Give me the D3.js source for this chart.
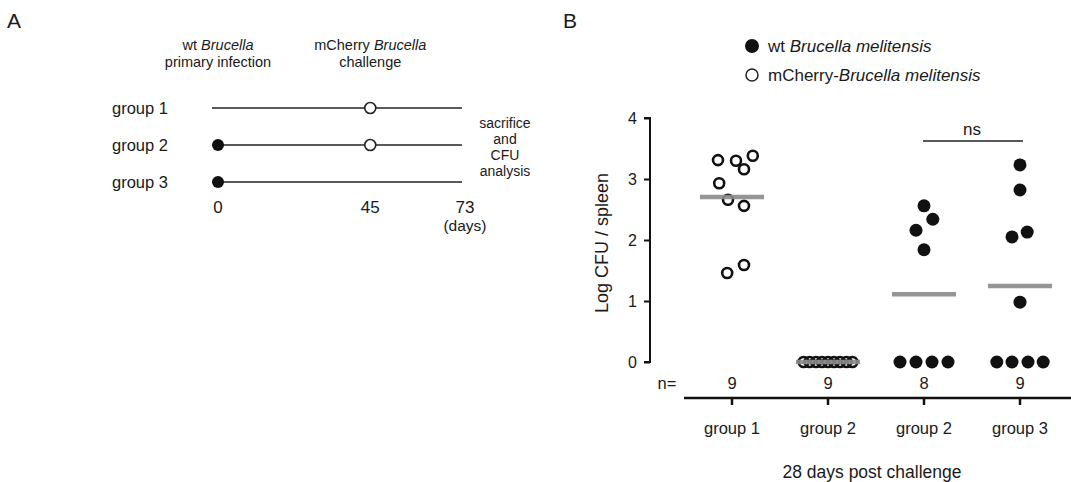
<!DOCTYPE html>
<html>
<head>
<meta charset="utf-8">
<script src="https://cdn.jsdelivr.net/npm/d3@7"></script>
<style>
  body { margin: 0; background: #fff; }
  svg { font-family: 'Liberation Sans', Arial, sans-serif; fill: #1a1a1a; }
</style>
</head>
<body>
<div id="chart"></div>
<script>
// ---- panel A: timeline ----
const timelineGroups = ['group 1', 'group 2', 'group 3'];
const primaryDay = [null, 0, 0];
const challengeDay = [45, 45, null];
const dayTicks = [0, 45, 73];

// ---- panel B: CFU per spleen ----
const categories = ['group 1', 'group 2', 'group 2', 'group 3'];
const nCounts = [9, 9, 8, 9];
const strain = ['mcherry', 'mcherry', 'wt', 'wt'];
const group1Values = [3.31, 3.30, 3.38, 3.16, 2.93, 2.66, 2.56, 1.46, 1.59];
const group1Offsets = [-1.75, 0.5, 2.6, 1.5, -1.6, -0.5, 1.5, -0.6, 1.5];
const group2aValues = [0, 0, 0, 0, 0, 0, 0, 0, 0];
const group2aOffsets = [-3.05, -2.3, -1.5, -0.75, 0, 0.75, 1.5, 2.3, 3.05];
const group2bValues = [2.56, 2.34, 2.16, 1.84, 0, 0, 0, 0];
const group2bOffsets = [0, 1.1, -1, 0, -3, -1, 1, 3];
const group3Values = [3.23, 2.82, 2.05, 2.13, 0.98, 0, 0, 0, 0];
const group3Offsets = [0, 0, -1, 0.9, 0, -2.9, -1, 1, 2.9];
const yTicks = [0, 1, 2, 3, 4];

const W = 1071, H = 482;
const svg = d3.select('#chart').append('svg').attr('width', W).attr('height', H);

// panel letters
svg.append('text').attr('x', 7).attr('y', 28).style('font-size', '21px').text('A');
svg.append('text').attr('x', 563).attr('y', 28).style('font-size', '21px').text('B');

// ===== Panel A =====
const tx = d3.scaleLinear().domain([0, 73]).range([218, 465]);
const ty = d3.scalePoint().domain(timelineGroups).range([108, 182]);
const gA = svg.append('g');

const headers = [
  { day: 0, lines: [['wt ', 'Brucella'], ['primary infection']] },
  { day: 45, lines: [['mCherry ', 'Brucella'], ['challenge']] }
];
headers.forEach(h => {
  const t = gA.append('text').attr('text-anchor', 'middle').style('font-size', '14.5px');
  h.lines.forEach((parts, i) => {
    const ts = t.append('tspan').attr('x', tx(h.day)).attr('y', 50 + i * 17);
    ts.append('tspan').text(parts[0]);
    if (parts[1]) ts.append('tspan').style('font-style', 'italic').text(parts[1]);
  });
});

timelineGroups.forEach((g, i) => {
  const y = ty(g);
  gA.append('text').attr('x', 112).attr('y', y + 6).style('font-size', '16.5px').text(g);
  gA.append('line')
    .attr('x1', tx(0) - 6).attr('x2', tx(73) - 3)
    .attr('y1', y).attr('y2', y)
    .attr('stroke', '#222').attr('stroke-width', 1.5);
  if (primaryDay[i] !== null) {
    gA.append('circle').attr('cx', tx(primaryDay[i])).attr('cy', y).attr('r', 6).attr('fill', '#111');
  }
  if (challengeDay[i] !== null) {
    gA.append('circle').attr('cx', tx(challengeDay[i])).attr('cy', y).attr('r', 5.5)
      .attr('fill', '#fff').attr('stroke', '#222').attr('stroke-width', 1.6);
  }
});

gA.selectAll('text.day').data(dayTicks).join('text')
  .attr('class', 'day').attr('x', d => tx(d)).attr('y', 213)
  .attr('text-anchor', 'middle').style('font-size', '17px').text(d => d);
gA.append('text').attr('x', tx(73)).attr('y', 231).attr('text-anchor', 'middle')
  .style('font-size', '15.5px').text('(days)');

const sacrifice = ['sacrifice', 'and', 'CFU', 'analysis'];
gA.selectAll('text.sac').data(sacrifice).join('text')
  .attr('class', 'sac').attr('x', 505).attr('y', (d, i) => 128 + i * 16)
  .attr('text-anchor', 'middle').style('font-size', '14px').text(d => d);

// ===== Panel B =====
const x = d3.scalePoint().domain(d3.range(categories.length)).range([732, 1020]);
const y = d3.scaleLinear().domain([0, 4]).range([362, 118]);
const jitter = d3.scaleLinear().domain([0, 1]).range([0, 8]);
const gB = svg.append('g');

// y axis
gB.append('g')
  .attr('transform', 'translate(650,0)')
  .call(d3.axisLeft(y).tickValues(yTicks).tickFormat(d3.format('d')).tickSize(6).tickPadding(7))
  .call(g => g.select('.domain').attr('stroke', '#111').attr('stroke-width', 2)
    .attr('d', `M-6,${y(4)}H0V${y(0)}H-6`))
  .call(g => g.selectAll('.tick line').attr('stroke', '#111').attr('stroke-width', 2))
  .call(g => g.selectAll('.tick text').style('font-size', '16px').attr('fill', '#1a1a1a')
    .style('font-family', "'Liberation Sans', Arial, sans-serif"));

gB.append('text')
  .attr('transform', 'translate(608,243) rotate(-90)')
  .attr('text-anchor', 'middle').style('font-size', '18px').text('Log CFU / spleen');

// x axis
const xAxis = gB.append('g').attr('transform', 'translate(0,398)');
xAxis.append('line').attr('x1', 684).attr('x2', W).attr('stroke', '#111').attr('stroke-width', 2.5);
xAxis.selectAll('line.tick').data(categories).join('line')
  .attr('class', 'tick').attr('x1', (d, i) => x(i)).attr('x2', (d, i) => x(i))
  .attr('y1', 0).attr('y2', 7).attr('stroke', '#111').attr('stroke-width', 2.5);
xAxis.selectAll('text.cat').data(categories).join('text')
  .attr('class', 'cat').attr('x', (d, i) => x(i)).attr('y', 36)
  .attr('text-anchor', 'middle').style('font-size', '16.5px').text(d => d);

gB.append('text').attr('x', 667).attr('y', 389).attr('text-anchor', 'middle')
  .style('font-size', '16.5px').text('n=');
gB.selectAll('text.n').data(nCounts).join('text')
  .attr('class', 'n').attr('x', (d, i) => x(i)).attr('y', 389)
  .attr('text-anchor', 'middle').style('font-size', '16.5px').text(d => d);

gB.append('text').attr('x', 872).attr('y', 478).attr('text-anchor', 'middle')
  .style('font-size', '17.5px').text('28 days post challenge');

// dots + means
const series = [
  { values: group1Values, offsets: group1Offsets },
  { values: group2aValues, offsets: group2aOffsets },
  { values: group2bValues, offsets: group2bOffsets },
  { values: group3Values, offsets: group3Offsets }
];

series.forEach((s, i) => {
  const pts = s.values.map((v, k) => ({ v, o: s.offsets[k] }));
  const open = strain[i] === 'mcherry';
  gB.append('g').selectAll('circle').data(pts).join('circle')
    .attr('cx', d => x(i) + jitter(d.o))
    .attr('cy', d => y(d.v))
    .attr('r', open ? 5 : 6.5)
    .attr('fill', open ? 'none' : '#111')
    .attr('stroke', open ? '#111' : 'none')
    .attr('stroke-width', 2.6);
  const mean = d3.sum(s.values) / nCounts[i];
  gB.append('line')
    .attr('x1', x(i) - jitter(4)).attr('x2', x(i) + jitter(4))
    .attr('y1', y(mean)).attr('y2', y(mean))
    .attr('stroke', '#8a8a8a').attr('stroke-width', 4.5).attr('opacity', 0.9);
});

// ns bracket
gB.append('line').attr('x1', x(2) - 1).attr('x2', x(3) + 3)
  .attr('y1', 141).attr('y2', 141).attr('stroke', '#222').attr('stroke-width', 1.5);
gB.append('text').attr('x', (x(2) + x(3)) / 2).attr('y', 135).attr('text-anchor', 'middle')
  .style('font-size', '17px').text('ns');

// legend
const legend = [
  { open: false, parts: [['wt ', false], ['Brucella melitensis', true]] },
  { open: true, parts: [['mCherry-', false], ['Brucella melitensis', true]] }
];
legend.forEach((l, i) => {
  const ly = 46 + i * 29;
  gB.append('circle').attr('cx', 752).attr('cy', ly).attr('r', l.open ? 6 : 7)
    .attr('fill', l.open ? '#fff' : '#111')
    .attr('stroke', l.open ? '#222' : 'none').attr('stroke-width', 1.5);
  const t = gB.append('text').attr('x', 768).attr('y', ly + 6).style('font-size', '17px');
  l.parts.forEach(p => t.append('tspan').style('font-style', p[1] ? 'italic' : 'normal').text(p[0]));
});
</script>
</body>
</html>
